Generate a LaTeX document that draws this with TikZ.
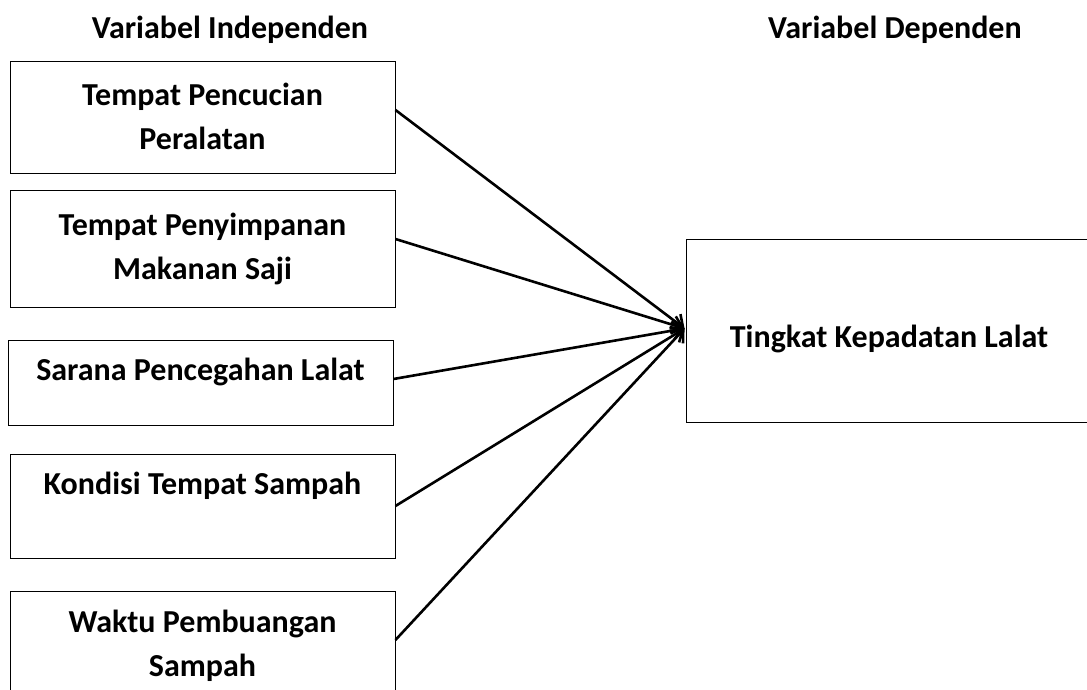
\documentclass[tikz,border=0pt]{standalone}
\usepackage{fontspec}
\setmainfont{Carlito}
\usetikzlibrary{arrows.meta}

\tikzset{
  varbox/.style={draw, line width=0.9pt, minimum width=385pt, inner sep=0pt},
  vartext/.style={align=center, font=\bfseries\fontsize{32}{44}\selectfont},
  headtext/.style={font=\bfseries\fontsize{32}{36}\selectfont},
  link/.style={line width=2.6pt, -{Straight Barb[length=10pt, width=18pt, line width=2.6pt]}}
}

\begin{document}
\begin{tikzpicture}[x=1pt, y=-1pt]
\useasboundingbox (0,0) rectangle (1087,690);
\clip (0,0) rectangle (1087,690);

\node[headtext] (hind) at (230, 30) {Variabel Independen};
\node[headtext] (hdep) at (895, 30) {Variabel Dependen};

\node[varbox, minimum height=112pt] (b1) at (202.5, 117) {};
\node[varbox, minimum height=117pt] (b2) at (202.5, 248.5) {};
\node[varbox, minimum height=85pt] (b3) at (200.5, 382.5) {};
\node[varbox, minimum height=104pt] (b4) at (202.5, 506) {};
\node[varbox, minimum height=140pt] (b5) at (202.5, 661) {};

\node[varbox, minimum width=420pt, minimum height=183pt] (dep) at (896, 330.5) {};

\node[vartext] (t1) at (202.5, 116) {Tempat Pencucian\\Peralatan};
\node[vartext] (t2) at (202.5, 249) {Tempat Penyimpanan\\Makanan Saji};
\node[vartext] (t3) at (200.5, 372) {Sarana Pencegahan Lalat};
\node[vartext] (t4) at (202.5, 486) {Kondisi Tempat Sampah};
\node[vartext] (t5) at (202.5, 646) {Waktu Pembuangan\\Sampah};
\node[vartext] (t0) at (889, 339) {Tingkat Kepadatan Lalat};

\coordinate (tip) at ([xshift=-1pt, yshift=2pt]dep.west);

\draw[link] ([yshift=7pt]b1.east) -- (tip);
\draw[link] ([yshift=9.5pt]b2.east) -- (tip);
\draw[link] ([yshift=3.5pt]b3.east) -- (tip);
\draw[link] (b4.east) -- (tip);
\draw[link] ([yshift=21pt]b5.east) -- (tip);
\end{tikzpicture}
\end{document}
